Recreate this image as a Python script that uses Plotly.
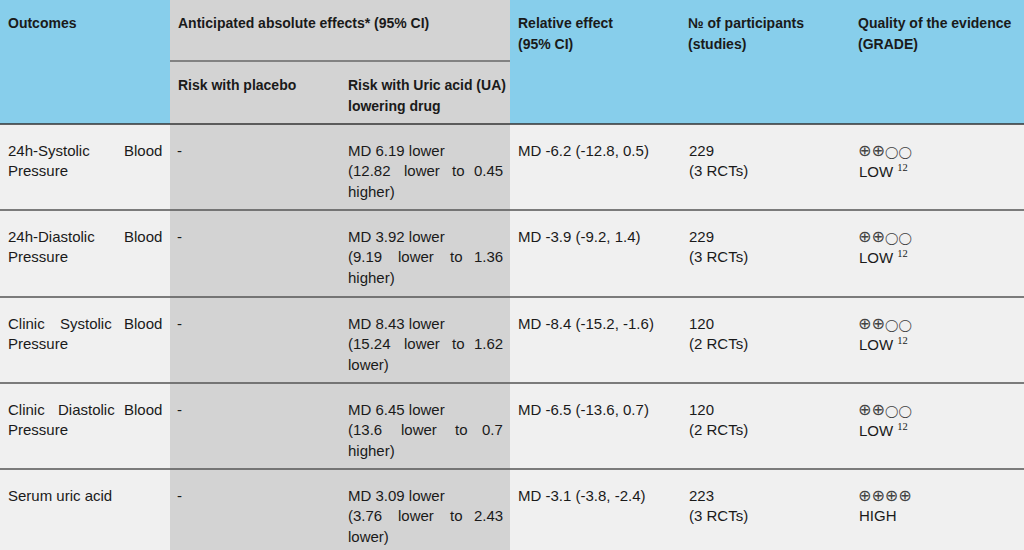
import plotly.graph_objects as go

# ---------------- data ----------------
outcomes = ["24h-Systolic Blood Pressure", "24h-Diastolic Blood Pressure",
            "Clinic Systolic Blood Pressure", "Clinic Diastolic Blood Pressure",
            "Serum uric acid"]
placebo_risk = ["-", "-", "-", "-", "-"]
md_abs = ["6.19", "3.92", "8.43", "6.45", "3.09"]
ci_abs_lo = ["12.82 lower", "9.19 lower", "15.24 lower", "13.6 lower", "3.76 lower"]
ci_abs_hi = ["0.45 higher", "1.36 higher", "1.62 lower", "0.7 higher", "2.43 lower"]
rel_md = ["-6.2", "-3.9", "-8.4", "-6.5", "-3.1"]
rel_lo = ["-12.8", "-9.2", "-15.2", "-13.6", "-3.8"]
rel_hi = ["0.5", "1.4", "-1.6", "0.7", "-2.4"]
participants = [229, 229, 120, 120, 223]
n_rcts = [3, 3, 2, 2, 3]
grade_level = [2, 2, 2, 2, 4]
grade_label = ["LOW", "LOW", "LOW", "LOW", "HIGH"]
grade_note = ["12", "12", "12", "12", ""]

header_main = ["Outcomes", "Anticipated absolute effects* (95% CI)",
               "Relative effect<br>(95% CI)", "№ of participants<br>(studies)",
               "Quality of the evidence<br>(GRADE)"]
header_sub = ["Risk with placebo", "Risk with Uric acid (UA)<br>lowering drug"]

# ---------------- layout helpers ----------------
W, H = 1024, 550
col_x = [0, 170, 338, 510, 680, 850, 1024]
pad = 6
header_bottom = 124
row_tops = [124, 210, 297, 383, 469, 556]
line_h = 20.5
BODY_FS = 15
HEAD_FS = 14
FONT = "Liberation Sans, Arial, sans-serif"
BLUE = "#87CEEB"
GRAY = "#D3D3D3"
LIGHT = "#F0F0F0"
TXT = "#1a1a1a"

AW = {' ': 278, '.': 278, ',': 278, '(': 333, ')': 333, '-': 333, '%': 889, '*': 389,
      'a': 556, 'b': 556, 'c': 500, 'd': 556, 'e': 556, 'f': 278, 'g': 556, 'h': 556,
      'i': 222, 'j': 222, 'k': 500, 'l': 222, 'm': 833, 'n': 556, 'o': 556, 'p': 556,
      'q': 556, 'r': 333, 's': 500, 't': 278, 'u': 556, 'v': 500, 'w': 722, 'x': 500,
      'y': 500, 'z': 500, 'A': 667, 'B': 667, 'C': 722, 'D': 722, 'E': 667, 'G': 778,
      'H': 722, 'I': 278, 'L': 556, 'M': 833, 'O': 778, 'P': 667, 'R': 722, 'S': 667,
      'T': 611, 'U': 722, 'W': 944}


def tw(s, fs=BODY_FS):
    return sum(AW.get(c, 556) for c in s) * fs / 1000.0


def wrap(text, width):
    words = text.split()
    lines, cur = [], []
    for w in words:
        trial = " ".join(cur + [w])
        if cur and tw(trial) > width:
            lines.append(cur)
            cur = [w]
        else:
            cur.append(w)
    if cur:
        lines.append(cur)
    return lines


annotations = []
shapes = []


def add_text(x, y, text, size=BODY_FS, anchor="left", color=TXT, family=FONT):
    annotations.append(dict(x=x, y=y, xref="x", yref="y", text=text, showarrow=False,
                            xanchor=anchor, yanchor="middle",
                            font=dict(size=size, color=color, family=family)))


def add_para(x0, width, y0, lines_of_words, justify=True):
    n = len(lines_of_words)
    for i, words in enumerate(lines_of_words):
        y = y0 + i * line_h
        if justify and i < n - 1 and len(words) > 1:
            total = sum(tw(w) for w in words)
            gap = (width - total) / (len(words) - 1)
            xc = x0
            for j, w in enumerate(words):
                if j == len(words) - 1:
                    add_text(x0 + width, y, w, anchor="right")
                else:
                    add_text(xc, y, w)
                xc += tw(w) + gap
        else:
            add_text(x0, y, " ".join(words))


def rect(x0, y0, x1, y1, color):
    shapes.append(dict(type="rect", xref="x", yref="y", x0=x0, x1=x1, y0=y0, y1=y1,
                       fillcolor=color, line=dict(width=0), layer="below"))


def hline(x0, x1, y, color="#444", width=1.3):
    shapes.append(dict(type="line", xref="x", yref="y", x0=x0, x1=x1, y0=y, y1=y,
                       line=dict(color=color, width=width), layer="above"))


# backgrounds
rect(0, 0, W, H, LIGHT)
rect(0, 0, col_x[1], header_bottom, BLUE)
rect(col_x[3], 0, W, header_bottom, BLUE)
rect(col_x[1], 0, col_x[3], H, GRAY)

# lines
hline(col_x[1], col_x[3], 61, color="#333", width=1.2)
hline(0, W, header_bottom, color="#333", width=1.5)
for yt in row_tops[1:-1]:
    hline(0, W, yt, color="#555", width=1.5)

# header text
hy1 = 23
add_text(col_x[0] + pad, hy1, "<b>%s</b>" % header_main[0], size=HEAD_FS)
add_text(col_x[1] + pad, hy1, "<b>%s</b>" % header_main[1], size=HEAD_FS)
for k, ci in zip(range(2, 5), [3, 4, 5]):
    parts = header_main[k].split("<br>")
    for li, p in enumerate(parts):
        add_text(col_x[ci] + pad, hy1 + li * 21, "<b>%s</b>" % p, size=HEAD_FS)
add_text(col_x[1] + pad, 85, "<b>%s</b>" % header_sub[0], size=HEAD_FS)
for li, p in enumerate(header_sub[1].split("<br>")):
    add_text(col_x[2] + 8, 85 + li * 21, "<b>%s</b>" % p, size=HEAD_FS)

# body
for r in range(len(outcomes)):
    y0 = row_tops[r] + 26
    add_para(col_x[0] + pad, 158, y0, wrap(outcomes[r], 160))
    add_text(col_x[1] + 5, y0, placebo_risk[r])
    x3 = col_x[2] + 8
    w3 = col_x[3] - 5 - x3
    add_text(x3, y0, "MD %s lower" % md_abs[r])
    ci_lines = wrap("(%s to %s)" % (ci_abs_lo[r], ci_abs_hi[r]), w3)
    add_para(x3, w3, y0 + line_h, ci_lines)
    add_text(col_x[3] + pad, y0, "MD %s (%s, %s)" % (rel_md[r], rel_lo[r], rel_hi[r]))
    add_text(col_x[4] + 7, y0, str(participants[r]))
    add_text(col_x[4] + 7, y0 + line_h, "(%d RCTs)" % n_rcts[r])
    sym = ("<span style='font-size:16px'>%s</span>" % ("⊕" * grade_level[r])
           + "◯" * (4 - grade_level[r]))
    add_text(col_x[5] + 6, y0, sym, size=12, color="#444", family="DejaVu Sans")
    lab = grade_label[r]
    if grade_note[r]:
        lab += " <span style='font-family:Liberation Serif'><sup>%s</sup></span>" % grade_note[r]
    add_text(col_x[5] + 7, y0 + line_h, lab)

fig = go.Figure()
fig.add_trace(go.Scatter(x=[0, W], y=[0, H], mode="markers",
                         marker=dict(opacity=0), hoverinfo="skip", showlegend=False))
fig.update_layout(
    width=W, height=H, margin=dict(l=0, r=0, t=0, b=0),
    paper_bgcolor=LIGHT, plot_bgcolor=LIGHT,
    xaxis=dict(range=[0, W], visible=False, fixedrange=True),
    yaxis=dict(range=[H, 0], visible=False, fixedrange=True),
    shapes=shapes, annotations=annotations, showlegend=False,
)
fig.write_html("out.html", config={"displayModeBar": False},
               post_script="document.body.style.margin='0';document.body.style.padding='0';")
